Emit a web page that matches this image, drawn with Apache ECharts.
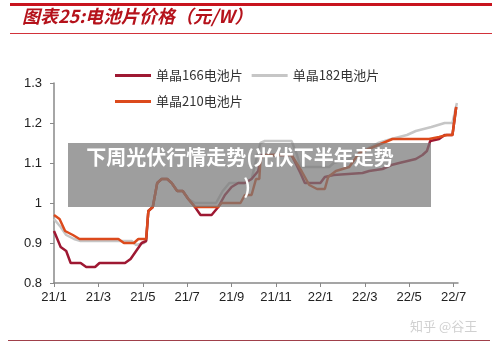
<!DOCTYPE html>
<html>
<head>
<meta charset="utf-8">
<script src="https://cdn.jsdelivr.net/npm/echarts@6/dist/echarts.min.js"></script>
<style>
  html, body { margin: 0; padding: 0; background: #fff; }
  #chart { width: 500px; height: 350px; }
</style>
</head>
<body>
<div id="chart"></div>
<script>
// x = months since 2021/1
var tickLabels = ["21/1", "21/3", "21/5", "21/7", "21/9", "21/11", "22/1", "22/3", "22/5", "22/7"];

var mono166 = [
  [0, 0.93], [0.3, 0.89], [0.55, 0.88], [0.75, 0.85], [1.2, 0.85], [1.45, 0.84], [1.85, 0.84],
  [2.05, 0.85], [3.2, 0.85], [3.45, 0.86], [3.7, 0.88], [3.95, 0.90], [4.15, 0.905],
  [4.25, 0.98], [4.45, 0.99], [4.65, 1.05], [4.85, 1.06], [5.1, 1.06], [5.3, 1.05], [5.55, 1.03],
  [5.8, 1.03], [6.05, 1.01], [6.35, 0.99], [6.6, 0.97], [7.1, 0.97], [7.4, 0.99], [7.7, 1.02],
  [8.0, 1.04], [8.3, 1.05], [8.6, 1.05], [8.9, 1.06], [9.2, 1.08], [9.35, 1.12], [10.7, 1.12],
  [11.1, 1.075], [11.3, 1.05], [12.0, 1.05], [12.2, 1.065], [12.6, 1.07], [13.9, 1.075],
  [14.2, 1.08], [14.8, 1.085], [15.2, 1.095], [15.55, 1.10], [16.3, 1.11], [16.6, 1.12],
  [16.8, 1.13], [16.95, 1.155], [17.35, 1.16], [17.6, 1.17], [17.95, 1.17], [18.12, 1.24]
];

var mono182 = [
  [0, 0.96], [0.3, 0.94], [0.55, 0.92], [0.9, 0.91], [1.2, 0.905], [3.5, 0.905], [3.7, 0.895],
  [4.05, 0.90], [4.15, 0.905], [4.25, 0.98], [4.45, 0.99], [4.65, 1.05], [4.85, 1.06], [5.1, 1.06],
  [5.3, 1.05], [5.55, 1.03], [5.8, 1.03], [6.05, 1.01], [6.35, 1.00], [7.3, 1.00], [7.6, 1.03],
  [7.9, 1.05], [8.6, 1.05], [8.9, 1.06], [9.3, 1.15], [9.5, 1.155], [10.7, 1.155], [10.95, 1.12],
  [11.1, 1.09], [12.4, 1.09], [12.6, 1.10], [13.3, 1.11], [13.9, 1.13], [14.6, 1.15], [15.2, 1.16],
  [15.9, 1.17], [16.3, 1.18], [17.0, 1.19], [17.6, 1.20], [17.95, 1.20], [18.15, 1.25]
];

var mono210 = [
  [0, 0.97], [0.25, 0.96], [0.5, 0.93], [0.85, 0.92], [1.15, 0.91], [2.9, 0.91], [3.15, 0.90],
  [3.6, 0.90], [3.8, 0.91], [4.15, 0.91], [4.25, 0.98], [4.45, 0.99], [4.65, 1.05], [4.85, 1.06],
  [5.1, 1.06], [5.3, 1.05], [5.55, 1.03], [5.8, 1.03], [6.05, 1.01], [6.35, 0.99], [7.4, 0.99],
  [7.55, 1.00], [8.4, 1.00], [8.6, 1.02], [8.9, 1.02], [9.1, 1.06], [9.25, 1.06], [9.3, 1.11],
  [9.45, 1.12], [10.7, 1.12], [11.15, 1.08], [11.5, 1.045], [11.85, 1.035], [12.2, 1.035],
  [12.35, 1.065], [12.7, 1.08], [13.3, 1.09], [13.75, 1.125], [14.6, 1.145], [15.25, 1.16],
  [16.9, 1.16], [17.35, 1.165], [17.7, 1.17], [17.95, 1.17], [18.12, 1.24]
];

var chart = echarts.init(document.getElementById("chart"));

var labelFont = { color: "#222", fontSize: 13, fontFamily: "Liberation Sans, Arial, sans-serif" };
var legendText = { color: "#333", fontSize: 13, fontFamily: "Noto Sans CJK SC" };

var option = {
  animation: false,
  backgroundColor: "#fff",
  grid: { left: 54, right: 42, top: 83, bottom: 67 },
  legend: [
    {
      data: ["单晶166电池片", "单晶182电池片"],
      left: 110, top: 64, icon: "rect", itemWidth: 36, itemHeight: 3, itemGap: 9,
      textStyle: legendText
    },
    {
      data: ["单晶210电池片"],
      left: 110, top: 90, icon: "rect", itemWidth: 36, itemHeight: 3,
      textStyle: legendText
    }
  ],
  xAxis: {
    type: "value", min: 0, max: 18.2, interval: 2,
    splitLine: { show: false },
    axisLine: { lineStyle: { color: "#888", width: 1.5 } },
    axisTick: { show: true, length: 4, lineStyle: { color: "#888" } },
    axisLabel: {
      margin: 8, showMaxLabel: false,
      formatter: function (v) { return tickLabels[Math.round(v / 2)] || ""; },
      color: labelFont.color, fontSize: labelFont.fontSize, fontFamily: labelFont.fontFamily
    }
  },
  yAxis: {
    type: "value", min: 0.8, max: 1.3, interval: 0.1,
    splitLine: { show: false },
    axisLine: { show: true, lineStyle: { color: "#888", width: 1.5 } },
    axisTick: { show: true, length: 4, lineStyle: { color: "#888" } },
    axisLabel: {
      margin: 12,
      formatter: function (v) { return String(Math.round(v * 10) / 10); },
      color: labelFont.color, fontSize: labelFont.fontSize, fontFamily: labelFont.fontFamily
    }
  },
  series: [
    { name: "单晶182电池片", type: "line", data: mono182, showSymbol: false, color: "#c6c6c6", lineStyle: { width: 2.5 }, z: 2 },
    { name: "单晶166电池片", type: "line", data: mono166, showSymbol: false, color: "#9e1832", lineStyle: { width: 2.5 }, z: 3 },
    { name: "单晶210电池片", type: "line", data: mono210, showSymbol: false, color: "#dc4a1c", lineStyle: { width: 2.5 }, z: 4 }
  ],
  graphic: [
    { type: "rect", shape: { x: 10, y: 3, width: 482, height: 3 }, style: { fill: "#c8141e" } },
    { type: "rect", shape: { x: 10, y: 33, width: 482, height: 1 }, style: { fill: "#d2323a" } },
    { type: "rect", shape: { x: 8, y: 340, width: 482, height: 1 }, style: { fill: "#a0404a" } },
    {
      type: "text", left: 22, top: 7,
      style: { text: "图表25:电池片价格（元/W）", fill: "#b5121b", fontSize: 18, fontWeight: "bold", fontStyle: "italic", fontFamily: "Noto Sans CJK SC" }
    },
    {
      type: "text", left: 410, top: 320,
      style: { text: "知乎 @谷王", fill: "#d0d0d0", fontSize: 13, fontFamily: "Noto Sans CJK SC" }
    },
    { type: "rect", z: 100, shape: { x: 68, y: 143, width: 363, height: 64 }, style: { fill: "rgba(120,120,120,0.72)" } },
    {
      type: "text", z: 101, x: 240, y: 157,
      style: { text: "下周光伏行情走势(光伏下半年走势", fill: "#fff", fontSize: 20, fontWeight: "bold", fontFamily: "Noto Sans CJK SC", align: "center", verticalAlign: "middle" }
    },
    {
      type: "text", z: 101, x: 247, y: 186,
      style: { text: ")", fill: "#fff", fontSize: 20, fontWeight: "bold", fontFamily: "Noto Sans CJK SC", align: "center", verticalAlign: "middle" }
    }
  ]
};

chart.setOption(option);
</script>
</body>
</html>
